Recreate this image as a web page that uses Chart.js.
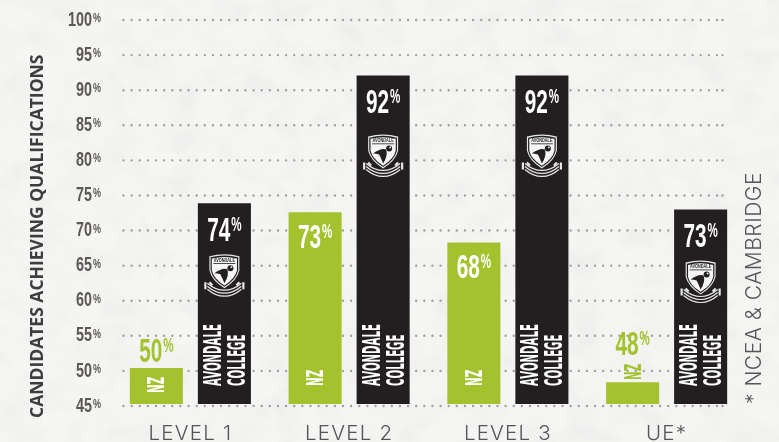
<!DOCTYPE html>
<html><head><meta charset="utf-8">
<script src="https://cdn.jsdelivr.net/npm/chart.js@4"></script>
<style>
html,body{margin:0;padding:0;width:779px;height:442px;overflow:hidden;background:#f3f3f2}
#bg{position:absolute;left:0;top:0}
#wrap{position:absolute;left:0;top:0;width:779px;height:442px}
</style></head><body>
<svg id="bg" width="779" height="442" xmlns="http://www.w3.org/2000/svg">
<filter id="t" x="0" y="0" width="100%" height="100%">
<feTurbulence type="fractalNoise" baseFrequency="0.03 0.04" numOctaves="6" seed="7"/>
<feColorMatrix type="matrix" values="0 0 0 0 0.5  0 0 0 0 0.5  0 0 0 0 0.5  0.6 0.6 0 0 -0.52"/>
</filter>
<rect width="779" height="442" fill="#f5f5f4"/>
<rect width="779" height="442" filter="url(#t)" opacity="0.28"/>
</svg>
<div id="wrap"><canvas id="c" width="779" height="442"></canvas></div>
<script>
const categories = ['LEVEL 1','LEVEL 2','LEVEL 3','UE*'];
const nzValues = [50.4,72.6,68.3,48.4];
const avondaleValues = [73.9,92.1,92.1,73];
const nzLabels = [50,73,68,48];
const avondaleLabels = [74,92,92,73];
const yTicks = [45,50,55,60,65,70,75,80,85,90,95,100];
const GREEN='#a4c22e', BLACK='#231f20', TICK='#5c5757';
const SANS='"Liberation Sans"';

function condensed(ctx,text,x,y,size,sx,color,family){
  ctx.save();ctx.translate(x,y);ctx.scale(sx,1);
  ctx.font='bold '+size+'px '+(family||SANS);ctx.fillStyle=color;
  ctx.textAlign='left';ctx.textBaseline='alphabetic';
  ctx.fillText(text,0,0);ctx.restore();
}
function valueLabel(ctx,v,cx,baseY,color){
  const t=String(v);const size=33,sx=.63,ps=20,psx=.58;
  ctx.save();ctx.font='bold '+size+'px '+SANS;
  const w=ctx.measureText(t).width*sx;ctx.font='bold '+ps+'px '+SANS;
  const pw=ctx.measureText('%').width*psx;ctx.restore();
  const left=cx-(w+pw+1)/2;
  condensed(ctx,t,left,baseY,size,sx,color);
  condensed(ctx,'%',left+w+1,baseY-10,ps,psx,color);
}
function rotated(ctx,text,x,y,size,sx,color){
  ctx.save();ctx.translate(x,y);ctx.rotate(-Math.PI/2);
  condensed(ctx,text,0,0,size,sx,color,'"DejaVu Sans"');ctx.restore();
}
function crest(ctx,cx,cy){
  ctx.save();ctx.translate(cx,cy);
  const shield=(s)=>{ctx.beginPath();ctx.moveTo(-15*s,-15*s);ctx.quadraticCurveTo(0,-19*s,15*s,-15*s);
    ctx.lineTo(15*s,-1*s);ctx.quadraticCurveTo(13*s,9*s,0,17*s);ctx.quadraticCurveTo(-13*s,9*s,-15*s,-1*s);ctx.closePath();};
  ctx.fillStyle='#e6e6e6';shield(1);ctx.fill();
  ctx.fillStyle=BLACK;shield(.92);ctx.fill();
  ctx.fillStyle='#f6f6f6';shield(.84);ctx.fill();
  ctx.fillStyle=BLACK;ctx.font='bold 4.5px '+SANS;ctx.textAlign='center';ctx.textBaseline='middle';
  ctx.save();ctx.scale(.85,1);ctx.fillText('AVONDALE',0,-10.5);ctx.restore();
  ctx.fillRect(-11,-8,22,.8);
  ctx.beginPath();ctx.moveTo(-10,2);ctx.quadraticCurveTo(-2,-4,3,-2);
  ctx.quadraticCurveTo(5,4,0,12);ctx.quadraticCurveTo(-2,7,-4,3);ctx.quadraticCurveTo(-7,2,-10,2);ctx.fill();
  ctx.beginPath();ctx.arc(6,-3,3,0,Math.PI*2);ctx.fill();
  ctx.fillStyle='#f6f6f6';ctx.beginPath();ctx.arc(7,-4,.9,0,Math.PI*2);ctx.fill();
  ctx.strokeStyle='#e8e8e8';ctx.lineWidth=1.2;
  for(const dy of [17,20,23]){ctx.beginPath();ctx.moveTo(-17,dy-5);ctx.quadraticCurveTo(-9,dy+2,0,dy+2);ctx.quadraticCurveTo(9,dy+2,17,dy-5);ctx.stroke();}
  ctx.lineWidth=2.2;
  ctx.beginPath();ctx.moveTo(-19,11);ctx.lineTo(-19,18);ctx.moveTo(19,11);ctx.lineTo(19,18);
  ctx.moveTo(-15,11);ctx.lineTo(-12,14);ctx.moveTo(15,11);ctx.lineTo(12,14);ctx.stroke();
  ctx.restore();
}
const decor={
  id:'decor',
  beforeDatasetsDraw(chart){
    const {ctx}=chart,y=chart.scales.y;
    ctx.save();ctx.strokeStyle='#a0a0a0';ctx.lineWidth=2.4;ctx.lineCap='round';ctx.setLineDash([0,8.13]);
    yTicks.forEach(t=>{const p=y.getPixelForValue(t);
      ctx.beginPath();ctx.moveTo(123.5,p);ctx.lineTo(717.5,p);ctx.moveTo(722.5,p);ctx.lineTo(723,p);ctx.stroke();});
    ctx.restore();
  },
  afterDatasetsDraw(chart){
    const {ctx}=chart,y=chart.scales.y;
    yTicks.forEach(t=>{condensed(ctx,'%',93,y.getPixelForValue(t)+2,13,.69,TICK);});
    const nz=chart.getDatasetMeta(0).data,av=chart.getDatasetMeta(1).data;
    nz.forEach((b,i)=>{
      const h=b.base-b.y,inside=h>100,tiny=h<25;
      valueLabel(ctx,nzLabels[i],b.x,inside?b.y+36:(tiny?b.y-27:b.y-6),inside?'#fff':GREEN);
      const yy=tiny?380:(h<50?393:386);
      rotated(ctx,'NZ',b.x+8,yy,23,.45,tiny?GREEN:'#fff');
    });
    av.forEach((b,i)=>{
      const tall=avondaleLabels[i]>80;
      valueLabel(ctx,avondaleLabels[i],b.x,b.y+38,'#fff');
      crest(ctx,b.x,b.y+(tall?76:68));
      rotated(ctx,'AVONDALE',b.x-3.5,386,24,.425,'#fff');
      rotated(ctx,'COLLEGE',b.x+20.5,386,24,.425,'#fff');
    });
    ctx.save();ctx.translate(43,418);ctx.rotate(-Math.PI/2);
    ctx.font='bold 17.5px "Open Sans"';ctx.fillStyle='#3e3c3c';ctx.textAlign='left';ctx.fillText('CANDIDATES ACHIEVING QUALIFICATIONS',0,0);ctx.restore();
    ctx.save();ctx.translate(761,404);ctx.rotate(-Math.PI/2);
    ctx.letterSpacing='0.5px';
    ctx.font='300 21px "Inter"';ctx.fillStyle='#555';ctx.textAlign='left';ctx.fillText('* NCEA & CAMBRIDGE',0,0);ctx.restore();
  }
};
new Chart(document.getElementById('c'),{
  type:'bar',
  data:{labels:categories,datasets:[
    {label:'NZ',data:nzValues,backgroundColor:GREEN,base:45.3},
    {label:'Avondale College',data:avondaleValues,backgroundColor:BLACK,base:45.3}
  ]},
  plugins:[decor],
  options:{
    responsive:false,animation:false,
    layout:{padding:{top:20,right:33,left:0,bottom:0}},
    plugins:{legend:{display:false},tooltip:{enabled:false}},
    datasets:{bar:{categoryPercentage:.857,barPercentage:.78}},
    scales:{
      x:{grid:{display:false},border:{display:false},
        ticks:{color:'#555',padding:8,font:{family:'Inter',size:20.5,weight:'300'},maxRotation:0},
        afterFit(s){s.height=36;s.paddingLeft=0;s.paddingRight=0;
          if(!s._wrapped){s._wrapped=true;const o=s.drawLabels;s.drawLabels=function(a){const c=s.ctx;c.save();c.letterSpacing='1.2px';o.call(s,a);c.restore();};}
        }},
      y:{min:45,max:100,grid:{display:false},border:{display:false},
        afterBuildTicks(s){s.ticks=yTicks.map(v=>({value:v}));},
        ticks:{color:TICK,padding:11,font:{family:'Liberation Sans',size:20.5,weight:'bold'}},
        afterFit(s){s.width=111;s.paddingTop=0;s.paddingBottom=0;
          if(!s._wrapped){s._wrapped=true;const o=s.drawLabels;s.drawLabels=function(a){const c=s.ctx,r=92;c.save();c.translate(r,0);c.scale(.7,1);c.translate(-r,0);o.call(s,a);c.restore();};}
        }}
    }
  }
});
</script></body></html>
